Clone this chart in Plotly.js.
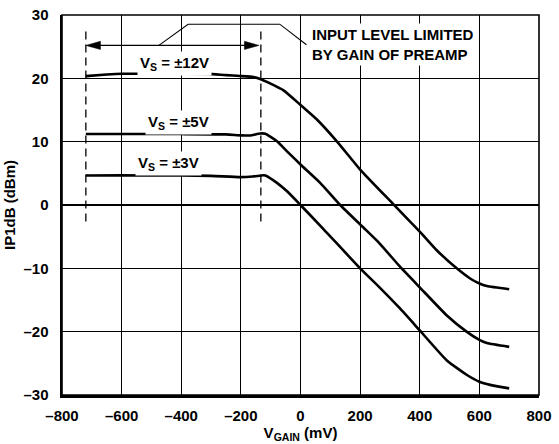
<!DOCTYPE html>
<html>
<head>
<meta charset="utf-8">
<script src="https://cdn.plot.ly/plotly-3.0.1.min.js"></script>
<style>html,body{margin:0;padding:0;background:#fff;}#chart{width:559px;height:444px;}</style>
</head>
<body>
<div id="chart"></div>
<script>
// V_GAIN (mV) and IP1dB (dBm)
const vs12_x = [-720, -650, -600, -500, -400, -310, -250, -202, -157, -135, -102, -57, 0, 55, 122, 200, 312, 400, 456, 524, 569, 600, 625, 700];
const vs12_y = [20.35, 20.6, 20.72, 20.72, 20.72, 20.7, 20.5, 20.37, 20.2, 19.9, 19.2, 18.1, 15.8, 13.5, 10.05, 5.6, 0.1, -4.2, -7.1, -10.0, -11.6, -12.4, -12.8, -13.3];

const vs5_x = [-720, -600, -400, -250, -200, -170, -135, -118, -79, -46, 0, 66, 133, 211, 265, 333, 400, 490, 557, 600, 625, 700];
const vs5_y = [11.2, 11.2, 11.2, 11.15, 11.0, 10.98, 11.3, 11.26, 10.05, 8.5, 6.4, 3.5, 0.0, -3.56, -6.05, -9.7, -13.0, -17.4, -20.0, -21.3, -21.8, -22.4];

const vs3_x = [-720, -600, -400, -300, -203, -160, -125, -118, -79, -46, 0, 77, 200, 265, 333, 400, 490, 557, 600, 636, 700];
const vs3_y = [4.65, 4.68, 4.65, 4.6, 4.4, 4.5, 4.69, 4.66, 3.5, 2.2, 0.0, -3.8, -10.0, -13.0, -16.3, -19.8, -24.5, -26.8, -27.9, -28.4, -28.95];

const xTicks = [-800, -600, -400, -200, 0, 200, 400, 600, 800];
const yTicks = [-30, -20, -10, 0, 10, 20, 30];

const FONT = "Liberation Sans, Arial, Helvetica, sans-serif";
const lineStyle = {color: '#000', width: 2.6, shape: 'spline', smoothing: 0.5};

const traces = [
  {x: vs12_x, y: vs12_y, name: 'V_S = ±12V', mode: 'lines', line: lineStyle, hoverinfo: 'skip'},
  {x: vs5_x, y: vs5_y, name: 'V_S = ±5V', mode: 'lines', line: lineStyle, hoverinfo: 'skip'},
  {x: vs3_x, y: vs3_y, name: 'V_S = ±3V', mode: 'lines', line: lineStyle, hoverinfo: 'skip'}
];

const axisCommon = {
  showgrid: true, gridcolor: '#000', gridwidth: 1.1,
  zeroline: false, showline: true, linecolor: '#000', linewidth: 2.5,
  ticks: '', tickfont: {family: FONT, size: 15, color: '#000', weight: 'bold'},
  fixedrange: true
};

const layout = {
  width: 559, height: 444,
  margin: {l: 62, r: 20, t: 15, b: 49},
  paper_bgcolor: '#fff', plot_bgcolor: '#fff',
  showlegend: false,
  font: {family: FONT, color: '#000'},
  xaxis: Object.assign({}, axisCommon, {
    range: [-800, 800], tickvals: xTicks, ticktext: xTicks.map(v => v < 0 ? '\u2013' + Math.abs(v) : String(v)),
    ticklabelstandoff: 5,
    title: {text: 'V<sub>GAIN</sub> (mV)', font: {family: FONT, size: 15, color: '#000', weight: 'bold'}, standoff: 2}
  }),
  yaxis: Object.assign({}, axisCommon, {
    range: [-30, 30], tickvals: yTicks, ticktext: yTicks.map(v => v < 0 ? '\u2013' + Math.abs(v) : String(v)),
    ticklabelstandoff: 8,
    title: {text: 'IP1dB (dBm)', font: {family: FONT, size: 15, color: '#000', weight: 'bold'}, standoff: 4}
  }),
  shapes: [
    {type: 'rect', xref: 'paper', yref: 'paper', x0: 0, x1: 1, y0: 0, y1: 1, line: {color: '#000', width: 1.6}},
    {type: 'line', x0: -720, x1: -720, y0: -2.6, y1: 27.4, line: {color: '#000', width: 1.3, dash: '8px,5px'}},
    {type: 'line', x0: -133, x1: -133, y0: -2.6, y1: 27.4, line: {color: '#000', width: 1.3, dash: '8px,5px'}},
    {type: 'line', x0: -690, x1: -168, y0: 25.2, y1: 25.2, line: {color: '#000', width: 1.2}},
    {type: 'path', path: 'M -720 25.2 L -671 25.85 L -671 24.55 Z', fillcolor: '#000', line: {color: '#000', width: 0.5}},
    {type: 'path', path: 'M -139 25.2 L -188 25.85 L -188 24.55 Z', fillcolor: '#000', line: {color: '#000', width: 0.5}},
    {type: 'path', path: 'M -475 25.2 L -377 28.55 L -69.5 28.55 L 20 25.3', line: {color: '#000', width: 1.1}}
  ],
  annotations: [
    {x: -421, y: 22.4, text: 'V<sub>S</sub> = ±12V', showarrow: false, bgcolor: '#fff', borderpad: 2,
     font: {family: FONT, size: 15, color: '#000', weight: 'bold'}},
    {x: -409, y: 13.1, text: 'V<sub>S</sub> = ±5V', showarrow: false, bgcolor: '#fff', borderpad: 2,
     font: {family: FONT, size: 15, color: '#000', weight: 'bold'}},
    {x: -442, y: 6.5, text: 'V<sub>S</sub> = ±3V', showarrow: false, bgcolor: '#fff', borderpad: 2,
     font: {family: FONT, size: 15, color: '#000', weight: 'bold'}},
    {x: 30, y: 25.4, xanchor: 'left', yanchor: 'middle', align: 'left',
     text: 'INPUT LEVEL LIMITED<br>BY GAIN OF PREAMP', showarrow: false, bgcolor: '#fff', borderpad: 2,
     font: {family: FONT, size: 15, color: '#000', weight: 'bold'}}
  ]
};

Plotly.newPlot('chart', traces, layout, {displayModeBar: false, staticPlot: true});
</script>
</body>
</html>
